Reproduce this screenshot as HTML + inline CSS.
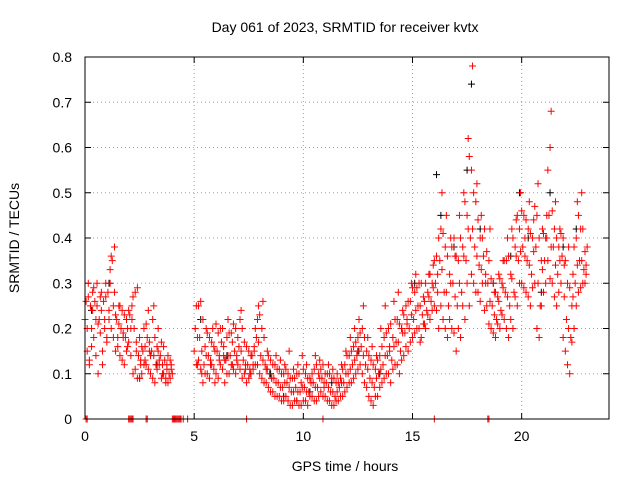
<!DOCTYPE html>
<html><head><meta charset="utf-8"><style>
body{margin:0;background:#fff;}
svg{display:block;font-family:"Liberation Sans",sans-serif;}
</style></head><body>
<svg id="chart" width="640" height="480" viewBox="0 0 640 480">
<text x="345" y="32" font-size="14" text-anchor="middle">Day 061 of 2023, SRMTID for receiver kvtx</text>
<text transform="translate(19,238) rotate(-90)" font-size="14" text-anchor="middle">SRMTID / TECUs</text>
<text x="345" y="471" font-size="14" text-anchor="middle">GPS time / hours</text>
<g id="grid"></g><g id="ticks"></g><g id="marks"></g>
<rect x="85" y="57" width="524" height="362" fill="none" stroke="#000" stroke-width="1"/>
</svg>
<script>
const xTicks=[0,5,10,15,20];
const yTicks=[0,0.1,0.2,0.3,0.4,0.5,0.6,0.7,0.8];
const yTickLabels=["0","0.1","0.2","0.3","0.4","0.5","0.6","0.7","0.8"];
const redTimes=[0.0,0.2,0.4,0.6,0.8,1.0,1.2,1.4,1.6,1.8,2.0,2.2,2.4,2.6,2.8,3.0,3.2,3.4,3.6,3.8,
5.0,5.2,5.4,5.6,5.8,6.0,6.2,6.4,6.6,6.8,7.0,7.2,7.4,7.6,7.8,8.0,8.2,8.4,8.6,8.8,9.0,9.2,9.4,9.6,9.8,
10.0,10.2,10.4,10.6,10.8,11.0,11.2,11.4,11.6,11.8,12.0,12.2,12.4,12.6,12.8,13.0,13.2,13.4,13.6,13.8,
14.0,14.2,14.4,14.6,14.8,15.0,15.2,15.4,15.6,15.8,16.0,16.2,16.4,16.6,16.8,17.0,17.2,17.4,17.6,17.8,
18.0,18.2,18.4,18.6,18.8,19.0,19.2,19.4,19.6,19.8,20.0,20.2,20.4,20.6,20.8,21.0,21.2,21.4,21.6,21.8,
22.0,22.2,22.4,22.6,22.8];
const redValues=[[.22,.26,.15,.30],[.12,.25,.20,.28],[.18,.26,.22,.30],[.10,.22,.27,.24],[.15,.26,.20,.30],
[.18,.28,.22,.33],[.20,.35,.25,.38],[.15,.22,.18,.25],[.14,.20,.24,.18],[.12,.18,.22,.16],[.17,.23,.20,.25],
[.10,.20,.28,.15],[.09,.14,.18,.12],[.10,.15,.20,.13],[.12,.18,.24,.15],[.10,.15,.22,.25],[.08,.12,.16,.20],
[.12,.14,.17,.10],[.10,.13,.09,.12],[.08,.10,.13,.11],
[.15,.20,.25,.12],[.13,.18,.26,.10],[.08,.12,.16,.20],[.10,.14,.18,.12],[.12,.20,.16,.08],[.10,.15,.19,.13],
[.12,.17,.20,.14],[.08,.13,.18,.22],[.10,.14,.19,.12],[.11,.15,.20,.13],[.12,.16,.22,.24],[.09,.13,.17,.11],
[.08,.12,.15,.10],[.10,.14,.12,.16],[.12,.18,.22,.25],[.10,.14,.20,.26],[.08,.12,.11,.15],[.07,.10,.13,.09],
[.06,.09,.12,.14],[.05,.08,.11,.13],[.04,.07,.10,.12],[.05,.08,.10,.15],[.03,.06,.09,.11],[.04,.07,.10,.12],
[.03,.06,.08,.14],[.04,.07,.10,.12],[.03,.06,.09,.08],[.05,.08,.11,.14],[.04,.07,.10,.13],[.06,.09,.12,.08],
[.05,.08,.10,.12],[.04,.06,.09,.11],[.03,.05,.08,.10],[.04,.07,.09,.12],[.05,.08,.12,.15],[.07,.10,.14,.18],
[.08,.12,.16,.20],[.10,.14,.18,.22],[.12,.16,.20,.25],[.08,.12,.15,.18],[.05,.09,.13,.16],[.03,.07,.11,.14],
[.05,.10,.14,.20],[.08,.12,.18,.25],[.10,.14,.20,.16],[.08,.13,.18,.26],[.12,.17,.22,.28],[.10,.15,.20,.24],
[.14,.19,.25,.22],[.15,.20,.26,.30],[.18,.22,.28,.32],[.20,.25,.30,.17],[.18,.23,.27,.21],[.20,.24,.28,.32],
[.22,.26,.30,.34],[.25,.30,.36,.28],[.20,.35,.42,.50],[.22,.28,.38,.45],[.18,.25,.32,.40],[.20,.30,.40,.36],
[.15,.25,.35,.45],[.18,.28,.38,.50],[.22,.35,.45,.62],[.25,.40,.55,.78],[.30,.38,.48,.52],[.28,.34,.40,.45],
[.30,.36,.42,.32],[.25,.30,.35,.42],[.20,.25,.30,.28],[.18,.22,.27,.32],[.20,.24,.30,.35],[.22,.28,.35,.40],
[.18,.25,.32,.42],[.20,.28,.38,.44],[.25,.35,.42,.50],[.30,.38,.45,.40],[.28,.35,.42,.48],[.25,.32,.40,.44],
[.30,.38,.45,.52],[.18,.25,.35,.42],[.28,.35,.40,.45],[.35,.45,.60,.68],[.30,.38,.42,.48],[.25,.32,.38,.42],
[.30,.36,.40,.34],[.15,.22,.30,.38],[.10,.18,.25,.32],[.20,.30,.40,.48],[.28,.35,.42,.50],[.30,.33,.37,.32]];
/* second sample set, 0.1 h after each redTimes entry */
const redValues2=[[.20,.27,.13],[.16,.24,.29],[.14,.25,.21],[.19,.28,.12],[.22,.27,.17],[.24,.30,.36],[.18,.28,.23],
[.16,.21,.25],[.13,.19,.23],[.15,.20,.24],[.14,.22,.27],[.11,.17,.29],[.09,.13,.16],[.12,.16,.21],[.11,.17,.14],
[.09,.14,.18],[.11,.15,.13],[.09,.12,.16],[.08,.11,.14],[.09,.12,.10],
[.12,.18,.25],[.11,.15,.22],[.10,.14,.19],[.09,.13,.17],[.11,.15,.21],[.09,.14,.20],[.11,.16,.13],[.10,.14,.19],
[.12,.17,.21],[.10,.14,.18],[.11,.15,.20],[.10,.12,.16],[.09,.11,.14],[.11,.15,.20],[.12,.17,.23],[.09,.13,.18],
[.08,.11,.14],[.06,.09,.12],[.05,.08,.11],[.05,.07,.10],[.04,.08,.11],[.04,.07,.09],[.03,.06,.09],[.04,.06,.10],
[.03,.07,.11],[.04,.06,.09],[.05,.08,.10],[.04,.07,.12],[.05,.09,.11],[.05,.07,.10],[.04,.07,.10],[.03,.06,.09],
[.04,.06,.08],[.05,.08,.11],[.06,.10,.14],[.08,.11,.15],[.09,.13,.17],[.11,.15,.19],[.10,.14,.18],[.07,.11,.14],
[.04,.08,.12],[.05,.09,.13],[.07,.11,.16],[.09,.14,.19],[.10,.15,.21],[.11,.16,.22],[.12,.17,.21],[.13,.19,.23],
[.16,.21,.26],[.17,.23,.29],[.19,.24,.29],[.20,.25,.30],[.21,.26,.30],[.23,.27,.32],[.24,.29,.35],[.24,.32,.40],
[.25,.33,.41],[.20,.28,.36],[.22,.30,.38],[.19,.27,.36],[.20,.30,.40],[.25,.36,.48],[.30,.42,.58],[.32,.42,.50],
[.28,.36,.44],[.26,.33,.40],[.24,.30,.37],[.21,.26,.31],[.19,.23,.28],[.21,.26,.31],[.23,.29,.35],[.20,.27,.36],
[.22,.31,.40],[.27,.36,.45],[.30,.37,.46],[.29,.36,.44],[.27,.34,.41],[.29,.37,.47],[.20,.30,.40],[.25,.33,.41],
[.30,.40,.55],[.31,.38,.46],[.27,.34,.40],[.28,.35,.41],[.18,.27,.35],[.12,.20,.29],[.17,.27,.38],[.25,.34,.45],
[.29,.35,.42],[.30,.34,.38]];
const blackTimes=[0.3,1.1,2.5,3.3,5.3,6.5,8.5,9.1,9.7,10.3,11.3,12.5,13.5,14.5,15.1,16.1,16.3,16.9,17.5,17.7,18.1,18.7,19.5,19.9,20.3,20.9,21.3,21.9,22.5];
const blackValues=[0.24,0.30,0.09,0.12,0.22,0.14,0.10,0.05,0.04,0.06,0.08,0.15,0.10,0.20,0.30,0.54,0.45,0.38,0.55,0.74,0.42,0.30,0.36,0.50,0.40,0.28,0.50,0.38,0.42];
const zeroTimes=[0.05,0.1,2.0,2.05,2.1,2.15,2.2,2.8,2.85,4.0,4.05,4.1,4.15,4.2,4.25,4.3,4.35,4.4,4.5,4.7,7.4,10.9,16.0,18.45,18.5];

const X0=85,X1=609,Y0=419,Y1=57;
const sx=t=>X0+t*(X1-X0)/24;
const sy=v=>Y0-v*(Y0-Y1)/0.8;
const NS="http://www.w3.org/2000/svg";
const grid=document.getElementById('grid'),ticks=document.getElementById('ticks'),marks=document.getElementById('marks');
function mk(tag,attrs,parent){const e=document.createElementNS(NS,tag);for(const k in attrs)e.setAttribute(k,attrs[k]);parent.appendChild(e);return e;}
xTicks.forEach(t=>{
  const x=sx(t);
  if(t>0){const g=mk('line',{x1:x,x2:x,y1:Y1,y2:Y0,stroke:'#a0a0a0','stroke-dasharray':'1,3'},grid);
  
  }
  mk('line',{x1:x,x2:x,y1:Y0,y2:Y0-6,stroke:'#000'},ticks);
  mk('line',{x1:x,x2:x,y1:Y1,y2:Y1+6,stroke:'#000'},ticks);
  const l=mk('text',{x:x,y:Y0+22,'font-size':14,'text-anchor':'middle'},ticks);l.textContent=t;
  
  
});
yTicks.forEach((v,i)=>{
  const y=sy(v);
  if(i>0&&i<yTicks.length-1){const g=mk('line',{x1:X0,x2:X1,y1:y,y2:y,stroke:'#a0a0a0','stroke-dasharray':'1,3'},grid);
  
  }
  mk('line',{x1:X0,x2:X0+6,y1:y,y2:y,stroke:'#000'},ticks);
  mk('line',{x1:X1,x2:X1-6,y1:y,y2:y,stroke:'#000'},ticks);
  const l=mk('text',{x:X0-13,y:y+5,'font-size':14,'text-anchor':'end'},ticks);l.textContent=yTickLabels[i];
  
  
});
function plus(x,y,c,name){
  const p=mk('path',{d:`M${x-3.5},${y}h7M${x},${y-3.5}v7`,stroke:c,'stroke-width':1,fill:'none'},marks);
  
  
}
blackTimes.forEach((t,i)=>plus(sx(t),sy(blackValues[i]),'#000','black-point'));
redTimes.forEach((t,i)=>{
  redValues[i].forEach((v,k)=>plus(sx(t+k*0.05),sy(v),'#f00','red-point'));
  redValues2[i].forEach((v,k)=>plus(sx(t+0.1+k*0.05),sy(v),'#f00','red-point'));
});
zeroTimes.forEach(t=>plus(sx(t),sy(0),'#f00','zero-point'));
</script>
</body></html>
